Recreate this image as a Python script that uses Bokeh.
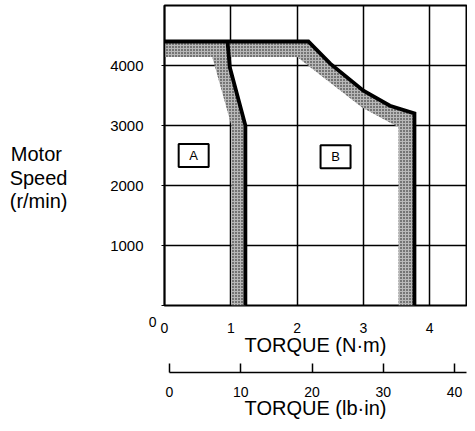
from bokeh.plotting import figure
from bokeh.models import Range1d, LinearAxis, FixedTicker, ColumnDataSource
from bokeh.core.properties import value
from bokeh.embed import file_html
from bokeh.resources import INLINE

# ---- data ----
torque_ticks = [0, 1, 2, 3, 4]
speed_ticks = [1000, 2000, 3000, 4000]
lbin_ticks = [0, 10, 20, 30, 40]
torque_max = 4.555
speed_max = 5000
lbin_start, lbin_end = -0.7, 41.68
y_title = "Motor \nSpeed\n(r/min)"
y_title_at = 2130

# Region A (boundary line and inner edge of shaded band)
line_a_torque = [0.95, 0.985, 1.22, 1.22]
line_a_speed = [4400, 3970, 3000, 0]
band_a_inner_torque = [0.72, 1.01, 1.01]
band_a_inner_speed = [4140, 3000, 0]

# Region B
line_b_torque = [0, 2.17, 2.5, 3.0, 3.4, 3.77, 3.77]
line_b_speed = [4400, 4400, 4030, 3580, 3330, 3200, 0]
band_b_inner_torque = [3.53, 3.53, 2.98, 2.0, 0]
band_b_inner_speed = [0, 2970, 3300, 4140, 4140]

region_names = ["A", "B"]
region_torque = [0.44, 2.58]
region_speed = [2500, 2480]

FONT = "Liberation Sans"

p = figure(width=467, height=423,
           x_range=Range1d(0, torque_max), y_range=Range1d(0, speed_max),
           output_backend="svg", toolbar_location=None,
           min_border_left=164, min_border_right=1, min_border_top=5,
           min_border_bottom=118)
p.background_fill_color = "white"
p.border_fill_color = "white"
p.outline_line_color = "black"
p.outline_line_width = 2
p.outline_line_alpha = 1

# grids
p.xgrid.ticker = FixedTicker(ticks=[t for t in torque_ticks if t > 0])
p.ygrid.ticker = FixedTicker(ticks=speed_ticks)
for g in (p.xgrid[0], p.ygrid[0]):
    g.grid_line_color = "black"
    g.grid_line_width = 1.5
    g.grid_line_alpha = 1

# shaded bands
band_style = dict(fill_color="#b8b8b8", line_color=None,
                  hatch_pattern="dot", hatch_color="#111111",
                  hatch_scale=3, hatch_weight=1.6)
p.patch(line_b_torque + band_b_inner_torque,
        line_b_speed + band_b_inner_speed, **band_style)
p.patch(band_a_inner_torque + line_a_torque[::-1],
        band_a_inner_speed + line_a_speed[::-1], **band_style)

# boundary lines
p.line(line_b_torque, line_b_speed, line_color="black", line_width=3.8, line_join="miter")
p.line(line_a_torque, line_a_speed, line_color="black", line_width=3.8, line_join="miter")

# region labels
src = ColumnDataSource(dict(x=region_torque, y=region_speed, t=region_names))
p.rect(x="x", y="y", width=30, height=23, width_units="screen", height_units="screen",
       fill_color="white", line_color="black", line_width=2, source=src)
p.text(x="x", y="y", text="t", text_align="center", text_baseline="middle",
       text_font=value(FONT), text_font_size="13px", text_color="black", source=src)


def no_ticks(ax):
    ax.major_tick_out = 0
    ax.major_tick_in = 0
    ax.minor_tick_out = 0
    ax.minor_tick_in = 0


# y axis 0: tick marks at the frame and the origin "0"
ya = p.yaxis[0]
ya.ticker = FixedTicker(ticks=[0] + speed_ticks)
ya.major_label_overrides = {0: "\n\n0", **{t: "" for t in speed_ticks}}
ya.axis_line_color = "black"
ya.axis_line_width = 1.5
ya.major_tick_out = 3
ya.major_tick_in = 0
ya.minor_tick_out = 0
ya.minor_tick_in = 0
ya.major_label_standoff = 5
ya.major_label_text_font = FONT
ya.major_label_text_font_size = "14px"
ya.major_label_text_line_height = 1.05
ya.major_label_text_color = "black"

# y axis 1: speed numbers
ya1 = LinearAxis(ticker=FixedTicker(ticks=speed_ticks), axis_line_color=None)
no_ticks(ya1)
ya1.major_label_standoff = 2
ya1.major_label_text_font = FONT
ya1.major_label_text_font_size = "15px"
ya1.major_label_text_color = "black"
p.add_layout(ya1, "left")

# y axis 2: horizontal title
ya2 = LinearAxis(ticker=FixedTicker(ticks=[y_title_at]), axis_line_color=None)
no_ticks(ya2)
ya2.major_label_overrides = {y_title_at: y_title}
ya2.major_label_standoff = 40
ya2.major_label_text_font = FONT
ya2.major_label_text_font_size = "20px"
ya2.major_label_text_line_height = 1.08
ya2.major_label_text_color = "black"
p.add_layout(ya2, "left")

# x axis in N·m
xa = p.xaxis[0]
xa.ticker = FixedTicker(ticks=torque_ticks)
xa.axis_line_color = None
no_ticks(xa)
xa.major_label_standoff = 17
xa.major_label_text_font = FONT
xa.major_label_text_font_size = "14px"
xa.major_label_text_color = "black"
xa.axis_label = "TORQUE (N·m)"
xa.axis_label_text_font = FONT
xa.axis_label_text_font_size = "20px"
xa.axis_label_text_font_style = "normal"
xa.axis_label_text_color = "black"
xa.axis_label_standoff = -2

# spacer between the two torque axes (a blank label inside the range)
spacer = LinearAxis(ticker=FixedTicker(ticks=[2]), axis_line_color=None)
no_ticks(spacer)
spacer.major_label_overrides = {2: "\u00a0"}
spacer.major_label_standoff = 0
spacer.major_label_text_font = FONT
spacer.major_label_text_font_size = "10px"
spacer.major_label_text_color = "white"
p.add_layout(spacer, "below")

# x axis in lb·in
p.extra_x_ranges = {"lbin": Range1d(lbin_start, lbin_end)}
la = LinearAxis(x_range_name="lbin", ticker=FixedTicker(ticks=lbin_ticks),
                bounds=(0, lbin_end))
la.axis_line_color = "black"
la.axis_line_width = 1.5
la.major_tick_in = 9
la.major_tick_out = 0
la.major_tick_line_width = 1.5
la.major_tick_line_color = "black"
la.minor_tick_out = 0
la.minor_tick_in = 0
la.major_label_standoff = 14
la.major_label_text_font = FONT
la.major_label_text_font_size = "14px"
la.major_label_text_color = "black"
la.axis_label = "TORQUE (lb·in)"
la.axis_label_text_font = FONT
la.axis_label_text_font_size = "20px"
la.axis_label_text_font_style = "normal"
la.axis_label_text_color = "black"
la.axis_label_standoff = -3
p.add_layout(la, "below")

open("out.html", "w").write(file_html(p, INLINE))
